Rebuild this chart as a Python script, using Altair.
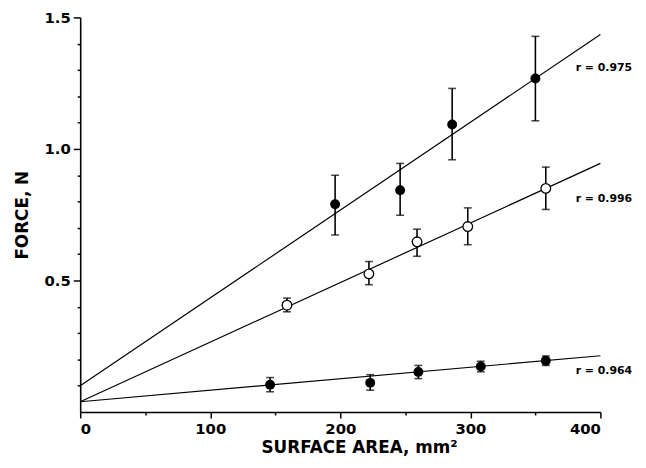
import altair as alt
import pandas as pd

# ---- data ----
top_x = [196, 246, 286, 350]
top_y = [0.79, 0.843, 1.093, 1.268]
top_lo = [0.673, 0.748, 0.959, 1.107]
top_hi = [0.90, 0.945, 1.23, 1.428]

mid_x = [159, 222, 259, 298, 358]
mid_y = [0.406, 0.525, 0.647, 0.705, 0.850]
mid_lo = [0.381, 0.484, 0.592, 0.636, 0.770]
mid_hi = [0.433, 0.572, 0.695, 0.776, 0.931]

bot_x = [146, 223, 260, 308, 358]
bot_y = [0.104, 0.111, 0.152, 0.173, 0.195]
bot_lo = [0.077, 0.083, 0.127, 0.153, 0.177]
bot_hi = [0.131, 0.142, 0.177, 0.193, 0.213]

fit_x = [0, 400]
fit_top = [0.100, 1.435]
fit_mid = [0.039, 0.945]
fit_bot = [0.039, 0.214]

r_labels = ["r = 0.975", "r = 0.996", "r = 0.964"]
r_x = [381, 381, 381]
r_y = [1.307, 0.809, 0.157]

x_major = [0, 100, 200, 300, 400]
x_minor = [50, 150, 250, 350]
y_major = [0.5, 1.0, 1.5]
y_minor = [0.1, 0.2, 0.3, 0.4, 0.6, 0.7, 0.8, 0.9, 1.1, 1.2, 1.3, 1.4]

# ---- tables ----
def pts(xs, ys, lo, hi, s):
    return pd.DataFrame({"x": xs, "y": ys, "lo": lo, "hi": hi, "s": s})

df_top = pts(top_x, top_y, top_lo, top_hi, "top")
df_mid = pts(mid_x, mid_y, mid_lo, mid_hi, "mid")
df_bot = pts(bot_x, bot_y, bot_lo, bot_hi, "bot")
df_all = pd.concat([df_top, df_mid, df_bot], ignore_index=True)

df_fit = pd.concat([
    pd.DataFrame({"x": fit_x, "y": fit_top, "s": "top"}),
    pd.DataFrame({"x": fit_x, "y": fit_mid, "s": "mid"}),
    pd.DataFrame({"x": fit_x, "y": fit_bot, "s": "bot"}),
], ignore_index=True)

df_lab = pd.DataFrame({"x": r_x, "y": r_y, "t": r_labels})

FONT = "DejaVu Sans"

xscale = alt.Scale(domain=[0, 400], nice=False, zero=False)
yscale = alt.Scale(domain=[0, 1.5], nice=False, zero=False)

xenc = alt.X("x:Q", scale=xscale, axis=alt.Axis(
    title="SURFACE AREA, mm²", values=x_major, grid=False, labelOverlap=False,
    tickSize=6, orient="bottom",
    labelFont=FONT, labelFontWeight="bold", labelFontSize=15, labelPadding=4,
    titleFont=FONT, titleFontWeight="bold", titleFontSize=17, titlePadding=3,
    titleX=282, titleAlign="center",
))
yenc = alt.Y("y:Q", scale=yscale, axis=alt.Axis(
    title="FORCE, N", values=y_major, grid=False, labelOverlap=False,
    tickSize=7, orient="left", format=".1f",
    labelFont=FONT, labelFontWeight="bold", labelFontSize=15, labelPadding=3,
    titleFont=FONT, titleFontWeight="bold", titleFontSize=17, titlePadding=13,
))

# minor-tick axes (share the same scales)
xminor = alt.X("x:Q", scale=xscale, axis=alt.Axis(
    title=None, values=x_minor, labels=False, domain=False, grid=False,
    tickSize=3, orient="bottom"))
yminor = alt.Y("y:Q", scale=yscale, axis=alt.Axis(
    title=None, values=y_minor, labels=False, domain=False, grid=False,
    tickSize=3, orient="left"))

lines = alt.Chart(df_fit).mark_line(color="black", strokeWidth=1.2).encode(
    x=xenc, y=yenc, detail="s:N")
minor = alt.Chart(df_fit).mark_line(opacity=0).encode(x=xminor, y=yminor, detail="s:N")

bars = alt.Chart(df_all).mark_rule(color="black", strokeWidth=1.6).encode(
    x=alt.X("x:Q", scale=xscale, axis=None), y=alt.Y("lo:Q", scale=yscale, axis=None), y2="hi:Q")
cap_lo = alt.Chart(df_all).mark_tick(color="black", orient="horizontal", size=8, thickness=1.6).encode(
    x=alt.X("x:Q", scale=xscale, axis=None), y=alt.Y("lo:Q", scale=yscale, axis=None))
cap_hi = alt.Chart(df_all).mark_tick(color="black", orient="horizontal", size=8, thickness=1.6).encode(
    x=alt.X("x:Q", scale=xscale, axis=None), y=alt.Y("hi:Q", scale=yscale, axis=None))

filled = alt.Chart(pd.concat([df_top, df_bot])).mark_point(
    shape="circle", filled=True, color="black", size=100, opacity=1).encode(
    x=alt.X("x:Q", scale=xscale, axis=None), y=alt.Y("y:Q", scale=yscale, axis=None))
hollow = alt.Chart(df_mid).mark_point(
    shape="circle", filled=True, fill="white", stroke="black", strokeWidth=1.3, size=95, opacity=1
).encode(x=alt.X("x:Q", scale=xscale, axis=None), y=alt.Y("y:Q", scale=yscale, axis=None))

labels = alt.Chart(df_lab).mark_text(
    align="left", baseline="middle", font=FONT, fontWeight="bold", fontSize=11, color="black"
).encode(x=alt.X("x:Q", scale=xscale, axis=None), y=alt.Y("y:Q", scale=yscale, axis=None), text="t:N")

chart = alt.layer(lines, minor, bars, cap_lo, cap_hi, filled, hollow, labels).resolve_axis(
    x="independent", y="independent"
).properties(
    width=526, height=399,
    background="white",
    autosize=alt.AutoSizeParams(type="none"),
    padding={"left": 73, "top": 7, "right": 38, "bottom": 46},
).configure_view(stroke=None).configure_axis(
    grid=False, domainColor="black", domainWidth=1.6, tickColor="black", tickWidth=1.5,
    labelColor="black", titleColor="black",
)

chart.save("out.html", embed_options={"renderer": "svg", "actions": False})
